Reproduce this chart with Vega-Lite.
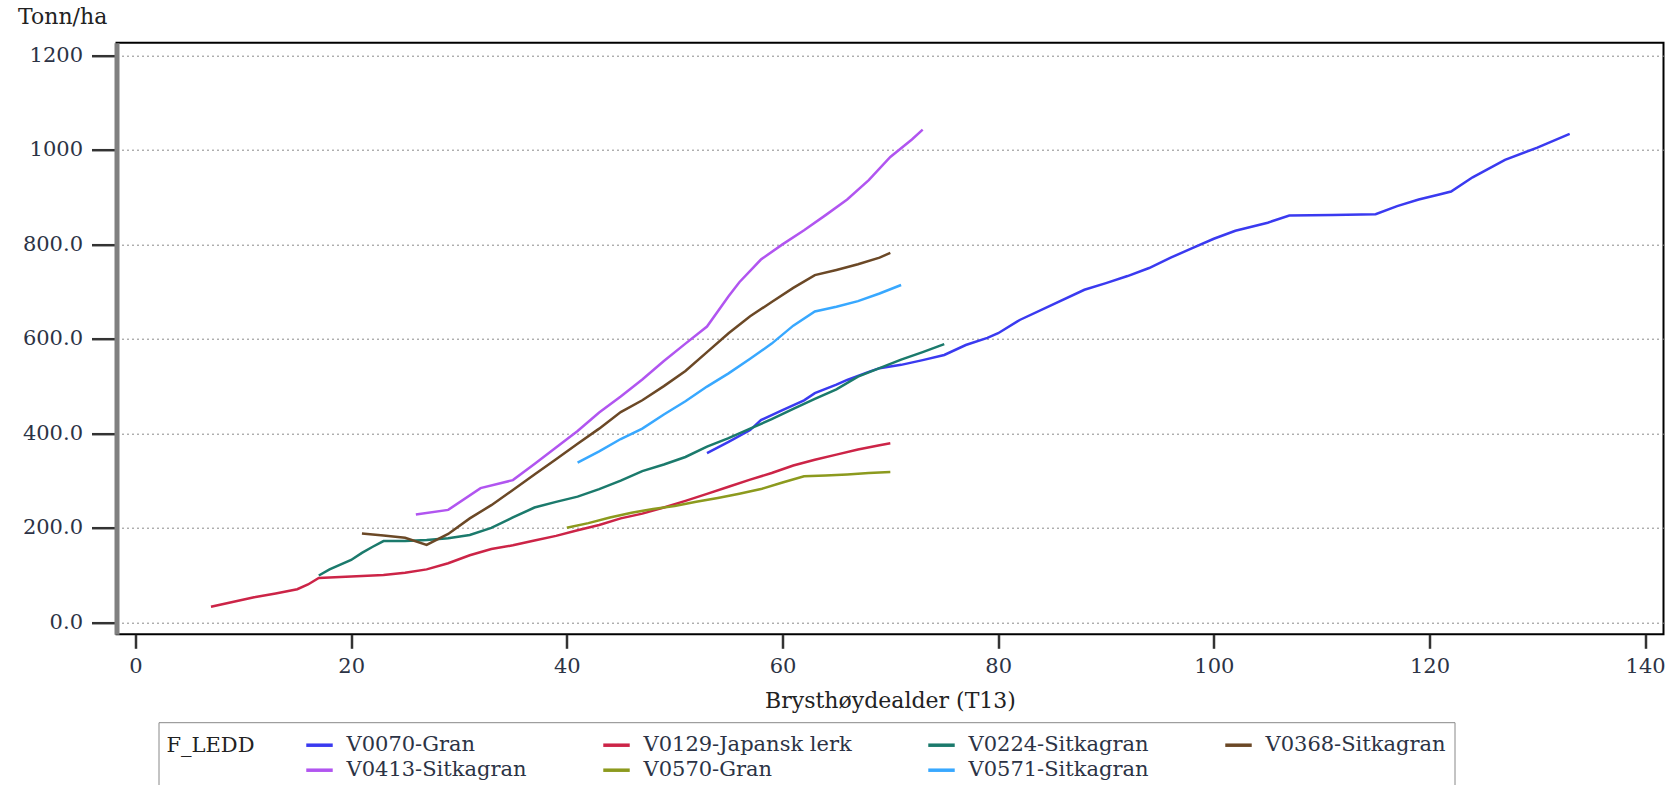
{
  "$schema": "https://vega.github.io/schema/vega-lite/v6.json",
  "autosize": {"type": "none"},
  "padding": {"left": 116.5, "top": 42.7, "right": 16.5, "bottom": 150.7},
  "width": 1547,
  "height": 591.6,
  "background": "white",
  "config": {
    "view": {"stroke": "#000", "strokeWidth": 2},
    "font": "DejaVu Serif"
  },
  "datasets": {
    "series": [
      {"s":"V0070-Gran","a":53,"t":358},{"s":"V0070-Gran","a":55,"t":382},{"s":"V0070-Gran","a":57,"t":407},{"s":"V0070-Gran","a":58,"t":428},{"s":"V0070-Gran","a":60,"t":449},{"s":"V0070-Gran","a":62,"t":470},{"s":"V0070-Gran","a":63,"t":485},{"s":"V0070-Gran","a":65,"t":503},{"s":"V0070-Gran","a":66,"t":513},{"s":"V0070-Gran","a":68,"t":530},{"s":"V0070-Gran","a":69,"t":538},{"s":"V0070-Gran","a":71,"t":545},{"s":"V0070-Gran","a":73,"t":555},{"s":"V0070-Gran","a":75,"t":566},{"s":"V0070-Gran","a":77,"t":587},{"s":"V0070-Gran","a":79,"t":602},{"s":"V0070-Gran","a":80,"t":612},{"s":"V0070-Gran","a":82,"t":640},{"s":"V0070-Gran","a":85,"t":672},{"s":"V0070-Gran","a":88,"t":704},{"s":"V0070-Gran","a":90,"t":718},{"s":"V0070-Gran","a":92,"t":733},{"s":"V0070-Gran","a":94,"t":750},{"s":"V0070-Gran","a":96,"t":772},{"s":"V0070-Gran","a":98,"t":792},{"s":"V0070-Gran","a":100,"t":812},{"s":"V0070-Gran","a":102,"t":829},{"s":"V0070-Gran","a":105,"t":846},{"s":"V0070-Gran","a":107,"t":861},{"s":"V0070-Gran","a":111,"t":862},{"s":"V0070-Gran","a":115,"t":864},{"s":"V0070-Gran","a":117,"t":881},{"s":"V0070-Gran","a":119,"t":895},{"s":"V0070-Gran","a":121,"t":906},{"s":"V0070-Gran","a":122,"t":912},{"s":"V0070-Gran","a":124,"t":942},{"s":"V0070-Gran","a":127,"t":979},{"s":"V0070-Gran","a":130,"t":1005},{"s":"V0070-Gran","a":133,"t":1034},
      {"s":"V0129-Japansk lerk","a":7,"t":33},{"s":"V0129-Japansk lerk","a":9,"t":43},{"s":"V0129-Japansk lerk","a":11,"t":53},{"s":"V0129-Japansk lerk","a":13,"t":61},{"s":"V0129-Japansk lerk","a":15,"t":70},{"s":"V0129-Japansk lerk","a":16,"t":80},{"s":"V0129-Japansk lerk","a":17,"t":94},{"s":"V0129-Japansk lerk","a":20,"t":97},{"s":"V0129-Japansk lerk","a":23,"t":100},{"s":"V0129-Japansk lerk","a":25,"t":105},{"s":"V0129-Japansk lerk","a":27,"t":112},{"s":"V0129-Japansk lerk","a":29,"t":125},{"s":"V0129-Japansk lerk","a":31,"t":142},{"s":"V0129-Japansk lerk","a":33,"t":155},{"s":"V0129-Japansk lerk","a":35,"t":163},{"s":"V0129-Japansk lerk","a":37,"t":173},{"s":"V0129-Japansk lerk","a":39,"t":183},{"s":"V0129-Japansk lerk","a":41,"t":195},{"s":"V0129-Japansk lerk","a":43,"t":206},{"s":"V0129-Japansk lerk","a":45,"t":220},{"s":"V0129-Japansk lerk","a":47,"t":230},{"s":"V0129-Japansk lerk","a":49,"t":243},{"s":"V0129-Japansk lerk","a":51,"t":257},{"s":"V0129-Japansk lerk","a":53,"t":272},{"s":"V0129-Japansk lerk","a":55,"t":287},{"s":"V0129-Japansk lerk","a":57,"t":302},{"s":"V0129-Japansk lerk","a":59,"t":316},{"s":"V0129-Japansk lerk","a":61,"t":332},{"s":"V0129-Japansk lerk","a":63,"t":344},{"s":"V0129-Japansk lerk","a":65,"t":355},{"s":"V0129-Japansk lerk","a":67,"t":366},{"s":"V0129-Japansk lerk","a":69,"t":375},{"s":"V0129-Japansk lerk","a":70,"t":379},
      {"s":"V0224-Sitkagran","a":17,"t":99},{"s":"V0224-Sitkagran","a":18,"t":112},{"s":"V0224-Sitkagran","a":20,"t":132},{"s":"V0224-Sitkagran","a":21,"t":147},{"s":"V0224-Sitkagran","a":22,"t":160},{"s":"V0224-Sitkagran","a":23,"t":172},{"s":"V0224-Sitkagran","a":25,"t":172},{"s":"V0224-Sitkagran","a":27,"t":174},{"s":"V0224-Sitkagran","a":29,"t":178},{"s":"V0224-Sitkagran","a":31,"t":185},{"s":"V0224-Sitkagran","a":33,"t":200},{"s":"V0224-Sitkagran","a":35,"t":222},{"s":"V0224-Sitkagran","a":37,"t":243},{"s":"V0224-Sitkagran","a":39,"t":255},{"s":"V0224-Sitkagran","a":41,"t":266},{"s":"V0224-Sitkagran","a":43,"t":282},{"s":"V0224-Sitkagran","a":45,"t":300},{"s":"V0224-Sitkagran","a":47,"t":320},{"s":"V0224-Sitkagran","a":49,"t":334},{"s":"V0224-Sitkagran","a":51,"t":350},{"s":"V0224-Sitkagran","a":53,"t":372},{"s":"V0224-Sitkagran","a":55,"t":390},{"s":"V0224-Sitkagran","a":57,"t":410},{"s":"V0224-Sitkagran","a":59,"t":430},{"s":"V0224-Sitkagran","a":61,"t":452},{"s":"V0224-Sitkagran","a":63,"t":473},{"s":"V0224-Sitkagran","a":65,"t":493},{"s":"V0224-Sitkagran","a":67,"t":520},{"s":"V0224-Sitkagran","a":69,"t":538},{"s":"V0224-Sitkagran","a":71,"t":556},{"s":"V0224-Sitkagran","a":73,"t":572},{"s":"V0224-Sitkagran","a":75,"t":589},
      {"s":"V0368-Sitkagran","a":21,"t":188},{"s":"V0368-Sitkagran","a":23,"t":184},{"s":"V0368-Sitkagran","a":25,"t":179},{"s":"V0368-Sitkagran","a":27,"t":164},{"s":"V0368-Sitkagran","a":29,"t":187},{"s":"V0368-Sitkagran","a":31,"t":220},{"s":"V0368-Sitkagran","a":33,"t":248},{"s":"V0368-Sitkagran","a":35,"t":280},{"s":"V0368-Sitkagran","a":37,"t":313},{"s":"V0368-Sitkagran","a":39,"t":345},{"s":"V0368-Sitkagran","a":41,"t":378},{"s":"V0368-Sitkagran","a":43,"t":410},{"s":"V0368-Sitkagran","a":45,"t":445},{"s":"V0368-Sitkagran","a":47,"t":470},{"s":"V0368-Sitkagran","a":49,"t":500},{"s":"V0368-Sitkagran","a":51,"t":532},{"s":"V0368-Sitkagran","a":53,"t":572},{"s":"V0368-Sitkagran","a":55,"t":612},{"s":"V0368-Sitkagran","a":57,"t":648},{"s":"V0368-Sitkagran","a":59,"t":678},{"s":"V0368-Sitkagran","a":61,"t":708},{"s":"V0368-Sitkagran","a":63,"t":735},{"s":"V0368-Sitkagran","a":65,"t":746},{"s":"V0368-Sitkagran","a":67,"t":758},{"s":"V0368-Sitkagran","a":69,"t":772},{"s":"V0368-Sitkagran","a":70,"t":782},
      {"s":"V0413-Sitkagran","a":26,"t":228},{"s":"V0413-Sitkagran","a":29,"t":238},{"s":"V0413-Sitkagran","a":32,"t":284},{"s":"V0413-Sitkagran","a":35,"t":301},{"s":"V0413-Sitkagran","a":37,"t":335},{"s":"V0413-Sitkagran","a":39,"t":370},{"s":"V0413-Sitkagran","a":41,"t":405},{"s":"V0413-Sitkagran","a":43,"t":444},{"s":"V0413-Sitkagran","a":45,"t":478},{"s":"V0413-Sitkagran","a":47,"t":514},{"s":"V0413-Sitkagran","a":49,"t":553},{"s":"V0413-Sitkagran","a":51,"t":590},{"s":"V0413-Sitkagran","a":53,"t":626},{"s":"V0413-Sitkagran","a":55,"t":690},{"s":"V0413-Sitkagran","a":56,"t":720},{"s":"V0413-Sitkagran","a":58,"t":768},{"s":"V0413-Sitkagran","a":60,"t":800},{"s":"V0413-Sitkagran","a":62,"t":830},{"s":"V0413-Sitkagran","a":64,"t":862},{"s":"V0413-Sitkagran","a":66,"t":895},{"s":"V0413-Sitkagran","a":68,"t":936},{"s":"V0413-Sitkagran","a":70,"t":985},{"s":"V0413-Sitkagran","a":72,"t":1022},{"s":"V0413-Sitkagran","a":73,"t":1043},
      {"s":"V0570-Gran","a":40,"t":200},{"s":"V0570-Gran","a":42,"t":210},{"s":"V0570-Gran","a":44,"t":222},{"s":"V0570-Gran","a":46,"t":232},{"s":"V0570-Gran","a":48,"t":240},{"s":"V0570-Gran","a":50,"t":246},{"s":"V0570-Gran","a":52,"t":255},{"s":"V0570-Gran","a":54,"t":263},{"s":"V0570-Gran","a":56,"t":272},{"s":"V0570-Gran","a":58,"t":282},{"s":"V0570-Gran","a":60,"t":296},{"s":"V0570-Gran","a":62,"t":309},{"s":"V0570-Gran","a":64,"t":311},{"s":"V0570-Gran","a":66,"t":313},{"s":"V0570-Gran","a":68,"t":316},{"s":"V0570-Gran","a":70,"t":318},
      {"s":"V0571-Sitkagran","a":41,"t":338},{"s":"V0571-Sitkagran","a":43,"t":362},{"s":"V0571-Sitkagran","a":45,"t":388},{"s":"V0571-Sitkagran","a":47,"t":410},{"s":"V0571-Sitkagran","a":49,"t":440},{"s":"V0571-Sitkagran","a":51,"t":468},{"s":"V0571-Sitkagran","a":53,"t":499},{"s":"V0571-Sitkagran","a":55,"t":527},{"s":"V0571-Sitkagran","a":57,"t":558},{"s":"V0571-Sitkagran","a":59,"t":590},{"s":"V0571-Sitkagran","a":61,"t":628},{"s":"V0571-Sitkagran","a":63,"t":658},{"s":"V0571-Sitkagran","a":65,"t":668},{"s":"V0571-Sitkagran","a":67,"t":680},{"s":"V0571-Sitkagran","a":69,"t":696},{"s":"V0571-Sitkagran","a":71,"t":714}
    ]
  },
  "data": {"name": "series"},
  "mark": {"type": "line", "strokeWidth": 2.5, "clip": true},
  "encoding": {
    "x": {
      "field": "a", "type": "quantitative",
      "scale": {"domain": [-1.76, 141.7], "nice": false, "zero": false},
      "axis": {
        "values": [0, 20, 40, 60, 80, 100, 120, 140],
        "format": "d",
        "grid": false,
        "domain": false,
        "tickSize": 14, "tickWidth": 2.5, "tickColor": "#333",
        "labelFont": "DejaVu Serif", "labelFontSize": 21, "labelColor": "#2c3345", "labelPadding": 7,
        "title": "Brysthøydealder (T13)",
        "titleFont": "DejaVu Serif", "titleFontSize": 22, "titleFontWeight": "normal", "titleColor": "#222",
        "titlePadding": 14
      }
    },
    "y": {
      "field": "t", "type": "quantitative",
      "scale": {"domain": [-25.4, 1227], "nice": false, "zero": false},
      "axis": {
        "values": [0, 200, 400, 600, 800, 1000, 1200],
        "labelExpr": "datum.value >= 1000 ? format(datum.value, 'd') : format(datum.value, '.1f')",
        "grid": true, "gridDash": [2, 3], "gridColor": "#8a8a8a", "gridWidth": 1,
        "domain": true, "domainColor": "#808080", "domainWidth": 5,
        "tickSize": 25, "tickWidth": 2.5, "tickColor": "#333",
        "labelFont": "DejaVu Serif", "labelFontSize": 21, "labelColor": "#2c3345", "labelPadding": 9,
        "title": "Tonn/ha",
        "titleAngle": 0, "titleAlign": "left", "titleBaseline": "middle",
        "titleX": -99, "titleY": -26.5,
        "titleFont": "DejaVu Serif", "titleFontSize": 22, "titleFontWeight": "normal", "titleColor": "#222"
      }
    },
    "color": {
      "field": "s", "type": "nominal",
      "scale": {
        "domain": ["V0070-Gran", "V0129-Japansk lerk", "V0224-Sitkagran", "V0368-Sitkagran", "V0413-Sitkagran", "V0570-Gran", "V0571-Sitkagran"],
        "range": ["#3a3af0", "#cc2447", "#1b7a6c", "#6b4826", "#b155f0", "#8c9a1e", "#38a8ff"]
      },
      "legend": {
        "title": "F_LEDD",
        "orient": "none", "legendX": 42, "legendY": 679.5,
        "direction": "horizontal", "columns": 4, "gridAlign": "each",
        "columnPadding": 68, "rowPadding": 0,
        "titleOrient": "left", "titlePadding": 49, "titleAnchor": "start", "titleBaseline": "line-top", "titleLineHeight": 31,
        "titleFont": "DejaVu Serif", "titleFontSize": 21, "titleFontWeight": "normal", "titleColor": "#222",
        "labelFont": "DejaVu Serif", "labelFontSize": 21, "labelColor": "#2c3345", "labelLimit": 500, "labelOffset": 12,
        "symbolType": "stroke", "symbolSize": 700, "symbolStrokeWidth": 3.5,
        "padding": 8, "strokeColor": "#888", "fillColor": "white"
      }
    }
  }
}
